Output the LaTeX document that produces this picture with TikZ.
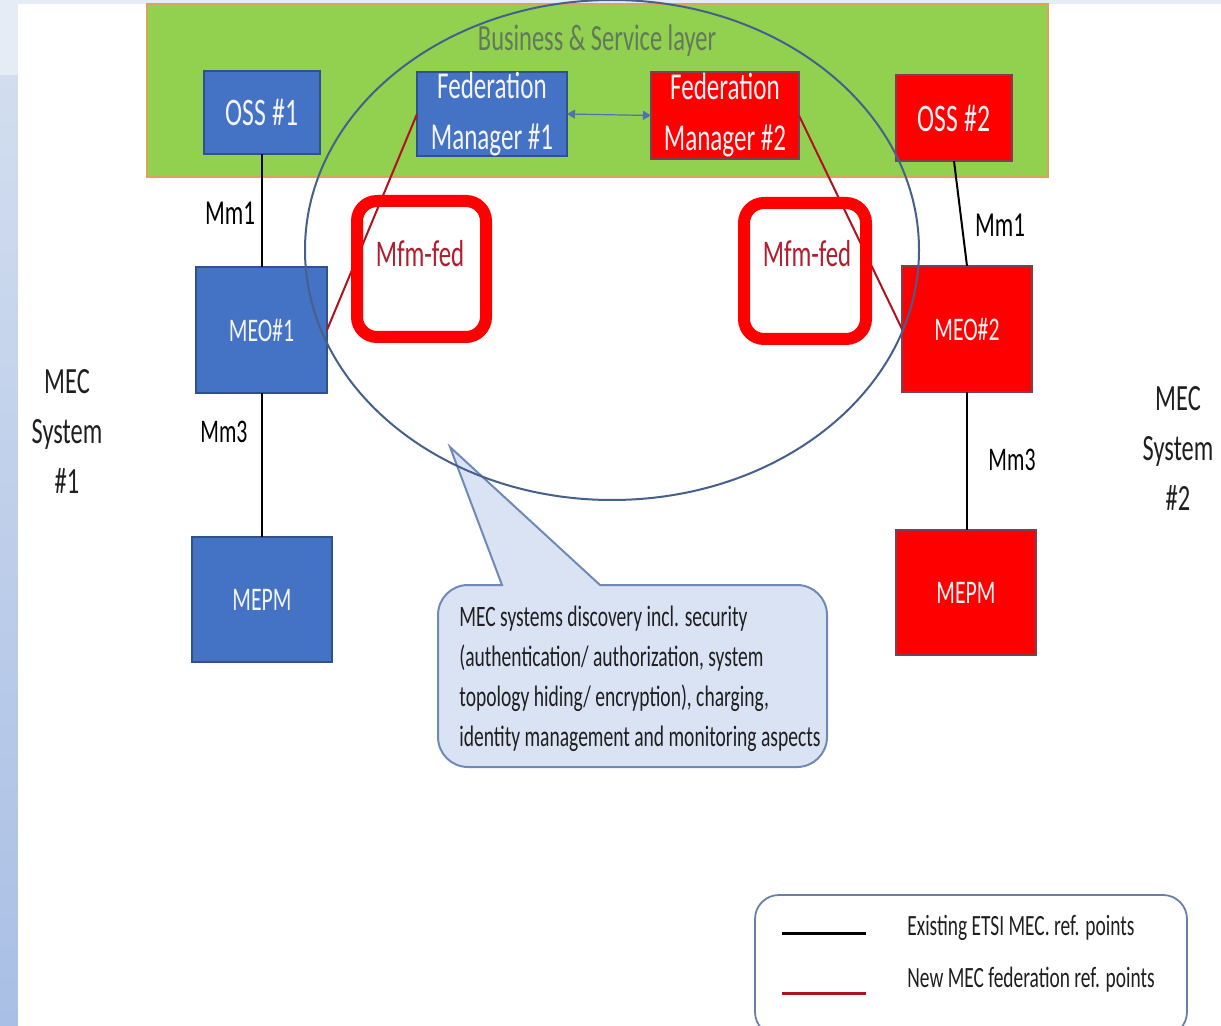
\documentclass[tikz,border=0pt]{standalone}
\usepackage{fontspec}
\setmainfont[FakeStretch=0.66]{Carlito}
\usetikzlibrary{arrows.meta,shapes.geometric}

\definecolor{pageblue}{HTML}{E6ECF6}
\definecolor{stripblueA}{HTML}{D2DDEF}
\definecolor{stripblueB}{HTML}{A9BFE5}
\definecolor{msblue}{HTML}{4472C4}
\definecolor{msblueedge}{HTML}{2F528F}
\definecolor{msred}{HTML}{FF0000}
\definecolor{msrededge}{HTML}{7F3F50}
\definecolor{layergreen}{HTML}{92D050}
\definecolor{layeredge}{HTML}{D9A55B}
\definecolor{layertext}{HTML}{62795A}
\definecolor{ringblue}{HTML}{46608C}
\definecolor{fedline}{HTML}{B0121E}
\definecolor{fedtext}{HTML}{B01E2E}
\definecolor{calloutfill}{HTML}{DAE3F3}
\definecolor{calloutedge}{HTML}{6F8AB7}
\definecolor{arrowblue}{HTML}{4F73A8}
\definecolor{legendedge}{HTML}{6A7FA8}
\definecolor{boxtext}{HTML}{F4F4F4}
\definecolor{darktext}{HTML}{1F1F1F}

\begin{document}
\begin{tikzpicture}[x=0.5pt,y=-0.5pt,
  box/.style={draw, line width=0.75pt, inner sep=0pt, outer sep=0pt, text=boxtext, align=center},
  bluebox/.style={box, fill=msblue, draw=msblueedge},
  redbox/.style={box, fill=msred, draw=msrededge},
  ossfont/.style={font=\fontsize{19.5}{23}\selectfont},
  fmfont/.style={font=\fontsize{19}{25.5}\selectfont},
  meofont/.style={font=\fontsize{16.5}{20}\selectfont},
  refline/.style={line width=1pt, black},
  fedlink/.style={line width=1pt, fedline},
  reflabel/.style={inner sep=0pt, text=black, font=\fontsize{17.5}{21}\selectfont},
  reflabelsm/.style={inner sep=0pt, text=black, font=\fontsize{16.5}{20}\selectfont},
  sysfont/.style={inner sep=0pt, align=center, text=darktext, font=\fontsize{18.5}{25}\selectfont},
  fedframe/.style={draw=msred, line width=6pt, rounded corners=10pt, inner sep=0pt, outer sep=0pt},
  fedlabel/.style={inner sep=0pt, text=fedtext, font=\fontsize{18.8}{22}\selectfont},
  legendtext/.style={inner sep=0pt, anchor=west, text=darktext, font=\fontsize{14.7}{18}\selectfont}
]
\useasboundingbox (0,0) rectangle (1221,1026);
\clip (0,0) rectangle (1221,1026);

% page background and side strip
\fill[pageblue] (0,0) rectangle (1221,1026);
\shade[top color=stripblueA, bottom color=stripblueB] (0,76) rectangle (18,1026);
\fill[white] (18,4) rectangle (1221,1026);

% business & service layer
\node[draw=layeredge, fill=layergreen, line width=0.75pt, minimum width=450.5pt, minimum height=86.5pt, inner sep=0pt] (layer) at (597.5,90.5) {};
\node[inner sep=0pt, text=layertext, font=\fontsize{18.5}{22}\selectfont] (layerlabel) at (597,41) {Business \& Service layer};

% MEC system #1
\node[bluebox, ossfont, minimum width=58pt, minimum height=41.5pt] (oss1) at (262,112.5) {OSS \#1};
\node[bluebox, fmfont, minimum width=75pt, minimum height=42pt] (fm1) at (492,114) {\raisebox{-1.5pt}{Federation}\\\raisebox{-1.5pt}{Manager \#1}};
\node[bluebox, meofont, minimum width=65.5pt, minimum height=63pt] (meo1) at (261.5,330) {MEO\#1};
\node[bluebox, meofont, minimum width=70pt, minimum height=62.5pt] (mepm1) at (262,599.5) {MEPM};

% MEC system #2
\node[redbox, fmfont, minimum width=74pt, minimum height=43.5pt] (fm2) at (725,115.5) {\raisebox{-1.5pt}{Federation}\\\raisebox{-1.5pt}{Manager \#2}};
\node[redbox, ossfont, minimum width=58pt, minimum height=43pt] (oss2) at (954,118) {OSS \#2};
\node[redbox, meofont, minimum width=65pt, minimum height=63pt] (meo2) at (967,329) {MEO\#2};
\node[redbox, meofont, minimum width=70pt, minimum height=62.5pt] (mepm2) at (966,592.5) {MEPM};

% existing reference points
\draw[refline] (oss1.south) -- (oss1.south |- meo1.north);
\draw[refline] (meo1.south) -- (meo1.south |- mepm1.north);
\draw[refline] (oss2.south) -- (meo2.north);
\draw[refline] (meo2.south) -- (meo2.south |- mepm2.north);

\node[reflabel] (mm1a) at (230,213) {Mm1};
\node[reflabelsm] (mm3a) at (224,432) {Mm3};
\node[reflabel] (mm1b) at (1000,225) {Mm1};
\node[reflabelsm] (mm3b) at (1012,460) {Mm3};

% federation reference points
\draw[fedlink] (fm1.west) -- (meo1.east);
\draw[fedlink] (fm2.east) -- (meo2.west);
\draw[arrowblue, line width=0.6pt, {Triangle[length=4pt,width=4.5pt]}-{Triangle[length=4pt,width=4.5pt]}] (fm1.east) -- (fm2.west);

% system labels
\node[sysfont] (sys1) at (67,431) {MEC\\System\\\#1};
\node[sysfont] (sys2) at (1178,448) {MEC\\System\\\#2};

% callout
\filldraw[fill=calloutfill, draw=calloutedge, line width=1pt]
  (600,585) [rounded corners=15pt] -- (827,585) -- (827,767) -- (438,767) -- (438,585)
  [sharp corners] -- (502,585) -- (450,447) -- cycle;
\node[inner sep=0pt, anchor=west, align=left, text=darktext, font=\fontsize{14.8}{20}\selectfont] (note) at (459,679)
  {MEC systems discovery incl. security\\(authentication/ authorization, system\\topology hiding/ encryption), charging,\\identity management and monitoring aspects};

% federation scope
\node[draw=ringblue, line width=1pt, ellipse, minimum width=307pt, minimum height=250pt, inner sep=0pt] (scope) at (612,250) {};

% highlighted reference point labels
\node[fedframe, minimum width=64.5pt, minimum height=68pt] (mfA) at (421.5,269) {};
\node[fedframe, minimum width=61pt, minimum height=68pt] (mfB) at (805,271) {};
\node[fedlabel] (mfAlabel) at (420,254) {Mfm-fed};
\node[fedlabel] (mfBlabel) at (807,254) {Mfm-fed};

% legend
\node[draw=legendedge, fill=white, line width=0.9pt, rounded corners=12pt, minimum width=216pt, minimum height=70.5pt, inner sep=0pt] (legend) at (971,965.5) {};
\coordinate (lgA1) at (782,933);
\coordinate (lgA2) at (866,933);
\coordinate (lgB1) at (782,993);
\coordinate (lgB2) at (866,993);
\draw[black, line width=1.5pt] (lgA1) -- (lgA2);
\draw[fedline, line width=1.5pt] (lgB1) -- (lgB2);
\node[legendtext] (lgAtext) at (907,928) {Existing ETSI MEC. ref. points};
\node[legendtext] (lgBtext) at (907,980) {New MEC federation ref. points};
\end{tikzpicture}
\end{document}
